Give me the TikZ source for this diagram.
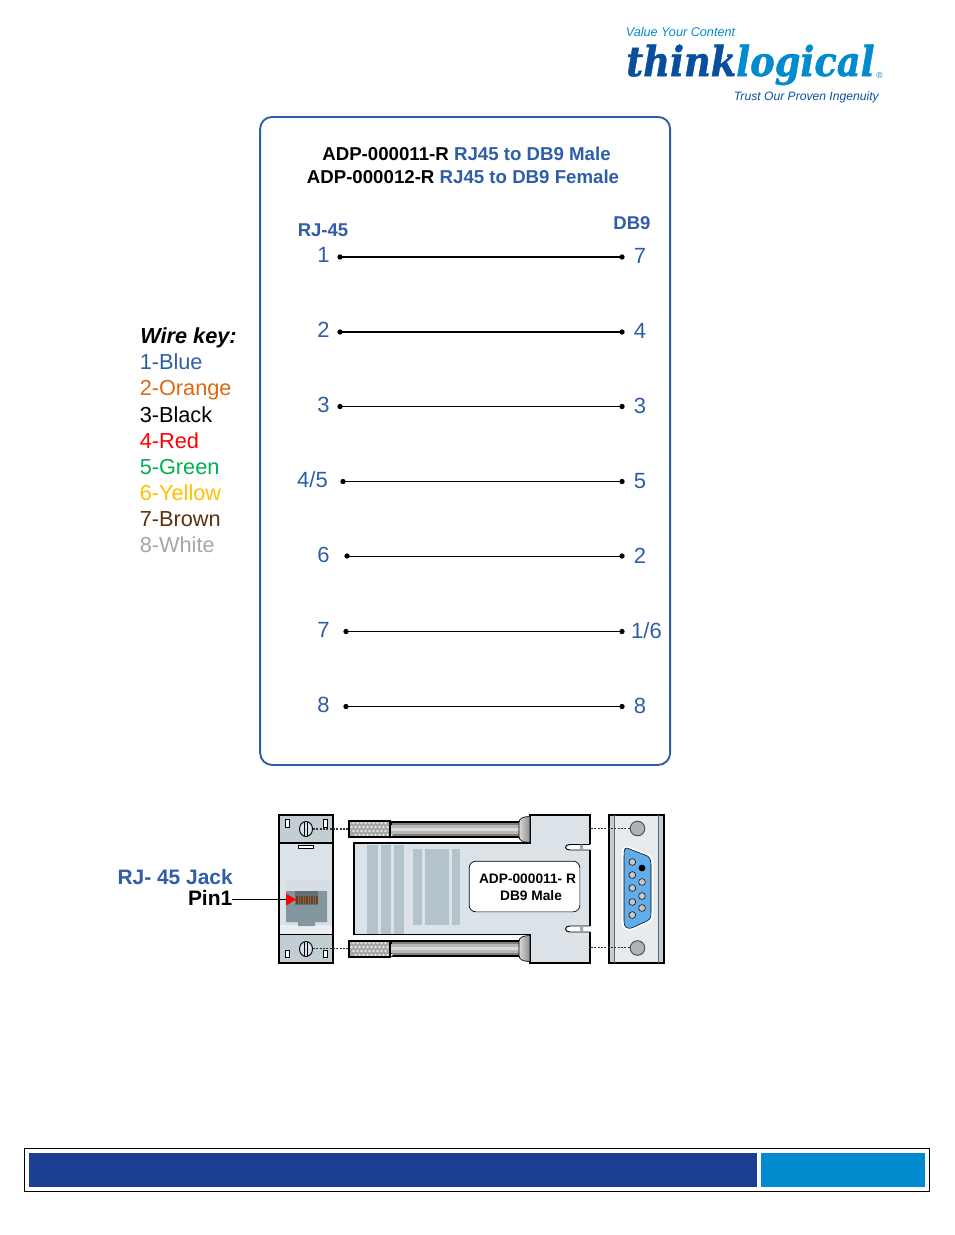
\documentclass[tikz,border=0pt]{standalone}
\usepackage{fontspec}
\setmainfont{Liberation Sans}
\newfontfamily\logofont{DejaVu Serif}[FakeBold=1.2]
\definecolor{tlblue}{HTML}{2F5DA8}
\definecolor{navy}{HTML}{1C3F94}
\definecolor{sky}{HTML}{008BCE}
\definecolor{logodark}{HTML}{0A4F9E}
\definecolor{panel}{HTML}{C3CDD4}
\definecolor{light}{HTML}{DCE3E8}
\definecolor{mid}{HTML}{B4C2CC}
\definecolor{jack}{HTML}{84979F}
\tikzset{
 x=0.75pt,y=-0.75pt,
 pinl/.style={font=\fontsize{16.5}{18}\selectfont,text=tlblue,inner sep=0pt},
 head/.style={font=\fontsize{13.9}{16}\selectfont\bfseries,text=tlblue,inner sep=0pt},
 keyt/.style={font=\fontsize{16.3}{18}\selectfont,inner sep=0pt,anchor=base west},
 titlet/.style={font=\fontsize{14}{17}\selectfont\bfseries,inner sep=0pt,anchor=base},
 platet/.style={font=\fontsize{10.3}{13}\selectfont\bfseries,inner sep=0pt,anchor=base},
 wire/.style={draw=black,line width=.6pt},
 thickwire/.style={draw=black,line width=1.3pt},
 dot/.style={circle,fill=black,inner sep=0pt,minimum size=4pt},
 hw/.style={draw=black,line width=1.3pt},
 leader/.style={draw=black!80,line width=.8pt,dash pattern=on 1.5pt off 1pt},
}
\begin{document}
\begin{tikzpicture}
\useasboundingbox (0,0) rectangle (954,1235);
% logo
\node[anchor=base west,inner sep=0pt,text=sky,font=\fontsize{9.5}{11}\selectfont\itshape] (v) at (625.5,36.5) {Value Your Content};
\node[anchor=base west,inner sep=0pt] (lg) at (626,76) {\scalebox{0.89}[1]{\logofont\fontsize{31}{34}\selectfont\bfseries\itshape\textcolor{logodark}{think}\textcolor{sky}{logical}}};
\node[anchor=base west,inner sep=0pt,text=sky,font=\fontsize{6.5}{7}\selectfont] (r) at (876,78) {®};
\node[anchor=base east,inner sep=0pt,text=logodark,font=\fontsize{9.1}{11}\selectfont\itshape] (t) at (879,100) {Trust Our Proven Ingenuity};
% main box
\node[draw=tlblue,line width=1.4pt,rounded corners=9pt,minimum width=307.5pt,minimum height=486pt,anchor=north west,inner sep=0pt] (box) at (259.2,116) {};
\node[titlet] (title1) at (466.5,160.3) {ADP-000011-R \textcolor{tlblue}{RJ45 to DB9 Male}};
\node[titlet] (title2) at (463,183.3) {ADP-000012-R \textcolor{tlblue}{RJ45 to DB9 Female}};
\node[head] (rj) at (323,230) {RJ-45};
\node[head] (db) at (632,223) {DB9};
% pins
\foreach \n/\l/\y/\xa/\xl/\yl/\st in {a/1/257/340/323.5/255/thickwire,b/2/332/340/323.5/330/thickwire,c/3/406.5/340/323.5/405/wire,d/{4/5}/481.5/343/312.5/480/wire,e/6/556/347/323.5/555/wire,f/7/631.5/346/323.5/630/wire,g/8/706.5/346/323.5/705/wire}{
 \node[dot] (\n1) at (\xa,\y) {};
 \node[dot] (\n2) at (622,\y) {};
 \draw[\st] (\n1.center) -- (\n2.center);
 \node[pinl] (\n L) at (\xl,\yl) {\l};
}
\node[pinl] (a R) at (640,256) {7};
\node[pinl] (b R) at (640,331) {4};
\node[pinl] (c R) at (640,406) {3};
\node[pinl] (d R) at (640,481) {5};
\node[pinl] (e R) at (640,556) {2};
\node[pinl] (f R) at (646.5,631) {1/6};
\node[pinl] (g R) at (640,706) {8};
% wire key
\node[keyt,font=\fontsize{16.3}{18}\selectfont\bfseries\itshape] (k0) at (140,343) {Wire key:};
\node[keyt,text=tlblue] (k1) at (139.5,369) {1-Blue};
\node[keyt,text={rgb,255:red,224;green,104;blue,16}] (k2) at (139.5,395) {2-Orange};
\node[keyt,text=black] (k3) at (139.5,422) {3-Black};
\node[keyt,text=red] (k4) at (139.5,448) {4-Red};
\node[keyt,text={rgb,255:red,0;green,176;blue,80}] (k5) at (139.5,474) {5-Green};
\node[keyt,text={rgb,255:red,255;green,192;blue,0}] (k6) at (139.5,500) {6-Yellow};
\node[keyt,text={rgb,255:red,90;green,50;blue,10}] (k7) at (139.5,526) {7-Brown};
\node[keyt,text=black!35] (k8) at (139.5,552) {8-White};
% jack label
\node[anchor=base east,inner sep=0pt,font=\fontsize{15.7}{18}\selectfont\bfseries,text=tlblue] (jl) at (233,884) {RJ- 45 Jack};
\node[anchor=base east,inner sep=0pt,font=\fontsize{15.7}{18}\selectfont\bfseries] (pin) at (232.5,905) {Pin1};
% RJ45 face
\fill[light] (279,815) rectangle (333,963);
\fill[panel] (279,815) rectangle (333,843);
\fill[panel] (279,935) rectangle (333,963);
\fill[light!85!mid] (286,880) rectangle (333,925);
\fill[white!40!light] (279,925) rectangle (333,934);
\draw[hw] (279,815) rectangle (333,963);
\draw[hw] (279,843) -- (333,843) (279,934.5) -- (333,934.5);
\draw[black,fill=white,line width=.4pt] (298,845) rectangle (313,848.5);
\draw[black,fill=white,line width=.5pt] (285,819) rectangle (289.5,827);
\draw[black,fill=white,line width=.5pt] (323,819) rectangle (327.5,827);
\draw[black,fill=white,line width=.5pt] (285,950.5) rectangle (289.5,957.5);
\draw[black,fill=white,line width=.5pt] (323,950.5) rectangle (327.5,957.5);
\fill[jack] (286,891) -- (327,891) -- (327,922) -- (315,922) -- (315,926) -- (298,926) -- (298,922) -- (286,922) -- cycle;
\fill[jack!75!black] (295,891) rectangle (318,905);
\foreach \x in {297,299.5,...,317}{\draw[draw={rgb,255:red,122;green,59;blue,16},line width=.8pt] (\x,896) -- (\x,904);}
\foreach \y in {829,949}{
 \draw[black,fill=light,line width=.7pt] (306,\y) ellipse (6.5 and 7.5);
 \draw[black,line width=.7pt] (304.5,\y-7) -- (304.5,\y+7) (307.5,\y-7) -- (307.5,\y+7);
}
\coordinate (ps) at (232,899.5);
\coordinate (pe) at (286,899.5);
\draw[black,line width=.5pt] (ps) -- (pe);
\fill[red] (286,893.5) -- (296,899.5) -- (286,905.5) -- cycle;
% DB9 shell side
\fill[light] (354,843) -- (530,843) -- (530,815) -- (590,815) -- (590,963) -- (530,963) -- (530,935) -- (354,935) -- cycle;
\fill[mid] (367,845) rectangle (378,934);
\fill[mid] (381,845) rectangle (391,934);
\fill[mid] (394,845) rectangle (404,934);
\fill[mid] (413,849) rectangle (422,925);
\fill[mid] (425,849) rectangle (449,925);
\fill[mid] (452,849) rectangle (460,925);
\draw[hw] (590,844) -- (590,815) -- (530,815) -- (530,843) -- (354,843) -- (354,934.5) -- (530,934.5) -- (530,963) -- (590,963) -- (590,932);
\draw[hw] (590,850) -- (590,926);
% notches
\draw[black,fill=white,line width=.7pt] (590,844.5) -- (570,844.5) .. controls (564,844.5) and (564,850) .. (570,850) -- (590,850);
\draw[black,fill=white,line width=.7pt] (590,926) -- (570,926) .. controls (564,926) and (564,932) .. (570,932) -- (590,932);
\fill[black!35] (580,844.5) rectangle (583,850) (580,926) rectangle (583,932);
% label plate
\node[draw=black,line width=.5pt,fill=white,rounded corners=5pt,minimum width=83pt,minimum height=38pt,inner sep=0pt] (plate) at (524.5,886.5) {};
\node[platet] (pt1) at (527.5,883.5) {ADP-000011- R};
\node[platet] (pt2) at (531,900) {DB9 Male};
% screws
\foreach \y/\c in {829/829.5,949/948.5}{
 \draw[black,fill=black!50,line width=.8pt] (391,\c-7.5) rectangle (521,\c+7.5);
 \fill[black!28] (391,\c-5) rectangle (521,\c+4.5);
 \fill[black!15] (391,\c-2) rectangle (521,\c+1);
 \draw[black,line width=.5pt,left color=black!15,right color=black!45] (519,\c-7) .. controls (519,\c-11) and (523,\c-13) .. (530,\c-13) -- (530,\c+13) .. controls (523,\c+13) and (519,\c+11) .. (519,\c+7) -- cycle;
 \fill[black!35] (349,\y-8) rectangle (390,\y+8);
 \foreach \i in {0,1,...,9}{\foreach \j in {0,1,2,3}{\fill[black!10] (351.5+4*\i+2*\j-2,\y-6+4*\j) circle (1.3);}}
 \draw[black,line width=.8pt] (349,\y-8) rectangle (390,\y+8);
}
% DB9 face
\fill[light!70!white] (609,815) rectangle (664,963);
\fill[panel] (609,815) rectangle (614.5,963);
\fill[panel] (658,815) rectangle (664,963);
\draw[hw] (609,815) rectangle (664,963);
\draw[black!60,line width=.5pt] (614.5,815) -- (614.5,963) (658,815) -- (658,963);
\draw[black!70,fill=black!30,line width=.7pt] (637.5,828.5) circle (7.3);
\draw[black!70,fill=black!30,line width=.7pt] (637.5,948) circle (7.3);
\draw[white,line width=1.6pt] (627,847) .. controls (623,847) and (623,851) .. (623,856) -- (623,922) .. controls (623,929) and (628,931) .. (634,928) -- (647,922) .. controls (652,919) and (652,916) .. (652,912) -- (652,864) .. controls (652,858) and (650,855) .. (645,854) -- cycle;
\draw[black,line width=.4pt,fill={rgb,255:red,98;green,172;blue,234}] (627,848) .. controls (624,848) and (624,851) .. (624,856) -- (624,921) .. controls (624,928) and (628,930) .. (634,927) -- (647,921) .. controls (651,919) and (651,916) .. (651,912) -- (651,864) .. controls (651,859) and (649,856) .. (645,855) -- cycle;
\foreach \x/\y in {632.3/862,632.3/875,632.3/888,632.3/902,632.3/915,642/882,642/896,642/908}{
 \draw[black,fill=black!22,line width=.4pt] (\x,\y) circle (3.4);
}
\fill[black] (642,868) circle (3.4);
% leaders
\coordinate (l1) at (313,829);
\coordinate (l2) at (349,829);
\coordinate (l3) at (313,948.5);
\coordinate (l4) at (349,948.5);
\coordinate (l5) at (591,828.5);
\coordinate (l6) at (630,828.5);
\coordinate (l7) at (591,947.5);
\coordinate (l8) at (630,947.5);
\draw[leader] (l1) -- (l2);
\draw[leader] (l3) -- (l4);
\draw[leader] (l5) -- (l6);
\draw[leader] (l7) -- (l8);
% footer
\node[draw=black,line width=.9pt,minimum width=678.5pt,minimum height=32.2pt,anchor=north west,inner sep=0pt] (foot) at (24,1148) {};
\fill[navy] (29,1153) rectangle (757,1187);
\fill[sky] (761,1153) rectangle (925,1187);
\end{tikzpicture}
\end{document}
